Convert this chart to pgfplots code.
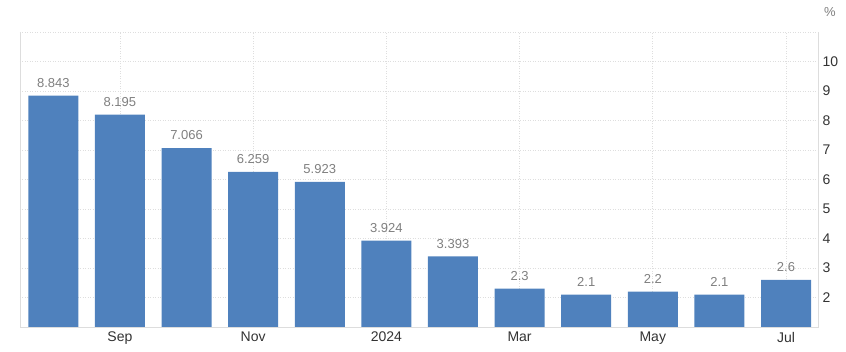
\documentclass[border=0pt]{standalone}
\usepackage{pgfplots}
\pgfplotsset{compat=1.18}
\usepackage{fontspec}
\setmainfont{Liberation Sans}
\definecolor{barblue}{HTML}{4F81BD}
\definecolor{gridc}{HTML}{DEDEDE}
\definecolor{axisc}{HTML}{DDDDDD}
\definecolor{labc}{HTML}{333333}
\definecolor{valc}{HTML}{7F7F7F}
\begin{document}
\begin{tikzpicture}
\useasboundingbox (-20pt,-25pt) rectangle (826pt,327pt);
\begin{axis}[
  at={(0,0)}, anchor=south west,
  scale only axis, width=798pt, height=295pt,
  xmin=-0.5, xmax=11.48, ymin=1, ymax=11,
  axis line style={draw=none},
  ybar, bar width=50pt,
  xtick={1,3,5,7,9,11}, xticklabels={Sep,Nov,2024,Mar,May,Jul},
  ytick={2,3,4,5,6,7,8,9,10},
  yticklabel pos=right,
  major tick length=0pt,
  tick style={draw=none},
  grid=major,
  major grid style={gridc, line width=0.8pt, dash pattern=on 1pt off 1.5pt},
  ticklabel style={font=\fontsize{14}{16}\selectfont, text=labc},
  xticklabel style={yshift=-1.5pt},
  yticklabel style={anchor=west, xshift=1pt},
  /pgf/number format/assume math mode=true,
  point meta=y,
  nodes near coords={\pgfmathprintnumber[fixed,precision=3]{\pgfplotspointmeta}},
  every node near coord/.append style={font=\fontsize{13}{15}\selectfont, text=valc, yshift=4.5pt},
  clip=false,
]
\addplot[fill=barblue, draw=none, bar shift=0pt] coordinates {
  (0,8.843) (1,8.195) (2,7.066) (3,6.259) (4,5.923) (5,3.924)
  (6,3.393) (7,2.3) (8,2.1) (9,2.2) (10,2.1) (11,2.6)
};
\draw[axisc, line width=0.8pt] (rel axis cs:0,1) -- (rel axis cs:0,0) -- (rel axis cs:1,0) -- (rel axis cs:1,1);
\draw[gridc, line width=0.8pt, dash pattern=on 1pt off 1.5pt] (rel axis cs:0,1) -- (rel axis cs:1,1);
\node[font=\fontsize{13}{15}\selectfont, text=valc] at (rel axis cs:1,1) [xshift=12pt, yshift=20pt] {\%};
\end{axis}
\end{tikzpicture}
\end{document}
